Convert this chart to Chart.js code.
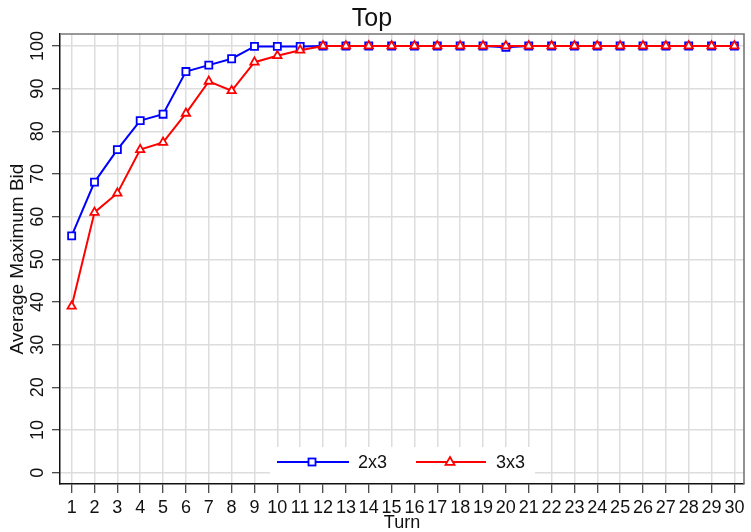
<!DOCTYPE html>
<html>
<head>
<meta charset="utf-8">
<script src="https://cdn.jsdelivr.net/npm/chart.js@4/dist/chart.umd.min.js"></script>
<style>
  html, body { margin: 0; padding: 0; background: #fff; }
  #wrap { width: 751px; height: 532px; }
</style>
</head>
<body>
<div id="wrap"><canvas id="chart"></canvas></div>
<script>
const turns = [1, 2, 3, 4, 5, 6, 7, 8, 9, 10, 11, 12, 13, 14, 15, 16, 17, 18, 19, 20, 21, 22, 23, 24, 25, 26, 27, 28, 29, 30];
const yTicks = [0, 10, 20, 30, 40, 50, 60, 70, 80, 90, 100];
const bid2x3 = [55.5, 68.1, 75.7, 82.5, 84.0, 94.0, 95.5, 97.0, 99.9, 99.9, 99.9, 100, 100, 100, 100, 100, 100, 100, 100, 99.7, 100, 100, 100, 100, 100, 100, 100, 100, 100, 100];
const bid3x3 = [39.0, 61.0, 65.5, 75.7, 77.4, 84.2, 91.7, 89.5, 96.2, 97.7, 99.0, 100, 100, 100, 100, 100, 100, 100, 100, 100, 100, 100, 100, 100, 100, 100, 100, 100, 100, 100];

const FONT = "'Liberation Sans', Arial, sans-serif";

const toPoints = (vals) => vals.map((v, i) => ({ x: turns[i], y: v }));

// rotated y tick labels, grey frame on top/right, legend inside the plot
const extras = {
    id: "extras",
    afterDraw(chart) {
        const ctx = chart.ctx;
        const area = chart.chartArea;
        const y = chart.scales.y;

        ctx.save();
        ctx.strokeStyle = "#777";
        ctx.lineWidth = 1.6;
        ctx.beginPath();
        ctx.moveTo(area.left, area.top);
        ctx.lineTo(area.right, area.top);
        ctx.lineTo(area.right, area.bottom);
        ctx.stroke();

        ctx.fillStyle = "#111";
        ctx.font = "18px " + FONT;
        ctx.textAlign = "center";
        ctx.textBaseline = "middle";
        y.ticks.forEach((t) => {
            ctx.save();
            ctx.translate(area.left - 22, y.getPixelForValue(t.value));
            ctx.rotate(-Math.PI / 2);
            ctx.fillText(String(t.value), 0, 0);
            ctx.restore();
        });

        // legend
        const cx = (area.left + area.right) / 2;
        ctx.fillStyle = "#fff";
        ctx.fillRect(cx - 132, area.bottom - 37, 265, 36);
        const ly = area.bottom - 22;
        ctx.lineWidth = 2;

        ctx.strokeStyle = "#0000ff";
        ctx.beginPath();
        ctx.moveTo(cx - 125, ly);
        ctx.lineTo(cx - 53, ly);
        ctx.stroke();
        ctx.lineWidth = 1.8;
        ctx.fillStyle = "#fff";
        ctx.fillRect(cx - 93.5, ly - 3.5, 7, 7);
        ctx.strokeRect(cx - 93.5, ly - 3.5, 7, 7);

        ctx.lineWidth = 2;
        ctx.strokeStyle = "#ff0000";
        ctx.beginPath();
        ctx.moveTo(cx + 14, ly);
        ctx.lineTo(cx + 84, ly);
        ctx.stroke();
        ctx.lineWidth = 1.8;
        ctx.beginPath();
        ctx.moveTo(cx + 48, ly - 5);
        ctx.lineTo(cx + 52.5, ly + 2.8);
        ctx.lineTo(cx + 43.5, ly + 2.8);
        ctx.closePath();
        ctx.fillStyle = "#fff";
        ctx.fill();
        ctx.stroke();

        ctx.fillStyle = "#111";
        ctx.font = "18px " + FONT;
        ctx.textAlign = "left";
        ctx.textBaseline = "middle";
        ctx.fillText("2x3", cx - 44, ly + 1);
        ctx.fillText("3x3", cx + 94, ly + 1);
        ctx.restore();
    }
};

new Chart(document.getElementById("chart").getContext("2d"), {
    type: "line",
    data: {
        datasets: [
            {
                label: "2x3",
                data: toPoints(bid2x3),
                order: 2,
                borderColor: "#0000ff",
                borderWidth: 2,
                pointStyle: "rect",
                pointRadius: 5,
                pointBorderWidth: 1.8,
                pointBorderColor: "#0000ff",
                pointBackgroundColor: "#fff",
                tension: 0
            },
            {
                label: "3x3",
                data: toPoints(bid3x3),
                order: 1,
                borderColor: "#ff0000",
                borderWidth: 2,
                pointStyle: "triangle",
                pointRadius: 4.8,
                pointBorderWidth: 1.8,
                pointBorderColor: "#ff0000",
                pointBackgroundColor: "#fff",
                tension: 0
            }
        ]
    },
    options: {
        responsive: true,
        maintainAspectRatio: false,
        animation: false,
        layout: { padding: { left: 0, right: 7, top: 0, bottom: 0 } },
        plugins: {
            legend: { display: false },
            tooltip: { enabled: false },
            title: {
                display: true,
                text: "Top",
                color: "#111",
                font: { family: FONT, size: 25, weight: "normal" },
                padding: { top: 4, bottom: 0 }
            }
        },
        scales: {
            x: {
                type: "linear",
                min: 0.49,
                max: 30.42,
                afterBuildTicks: (s) => { s.ticks = turns.map((v) => ({ value: v })); },
                afterFit: (s) => { s.height = 48; },
                grid: { color: "#dddddd", lineWidth: 1.5, tickColor: "#111", tickWidth: 1, tickLength: 9 },
                border: { color: "#111", width: 1.5 },
                ticks: {
                    color: "#111",
                    font: { family: FONT, size: 18 },
                    padding: 4,
                    maxRotation: 0,
                    autoSkip: false
                },
                title: {
                    display: true,
                    text: "Turn",
                    color: "#111",
                    font: { family: FONT, size: 18, lineHeight: 1.0 },
                    padding: { top: 0, bottom: 0 }
                }
            },
            y: {
                min: -2.65,
                max: 102.8,
                afterBuildTicks: (s) => { s.ticks = yTicks.map((v) => ({ value: v })); },
                afterFit: (s) => { s.width = 60; },
                grid: { color: "#dddddd", lineWidth: 1.5, tickColor: "#111", tickWidth: 1, tickLength: 8 },
                border: { color: "#111", width: 1.5 },
                ticks: { display: false },
                title: {
                    display: true,
                    text: "Average Maximum Bid",
                    color: "#111",
                    font: { family: FONT, size: 19 },
                    padding: { top: 6, bottom: 0 }
                }
            }
        }
    },
    plugins: [extras]
});
</script>
</body>
</html>
